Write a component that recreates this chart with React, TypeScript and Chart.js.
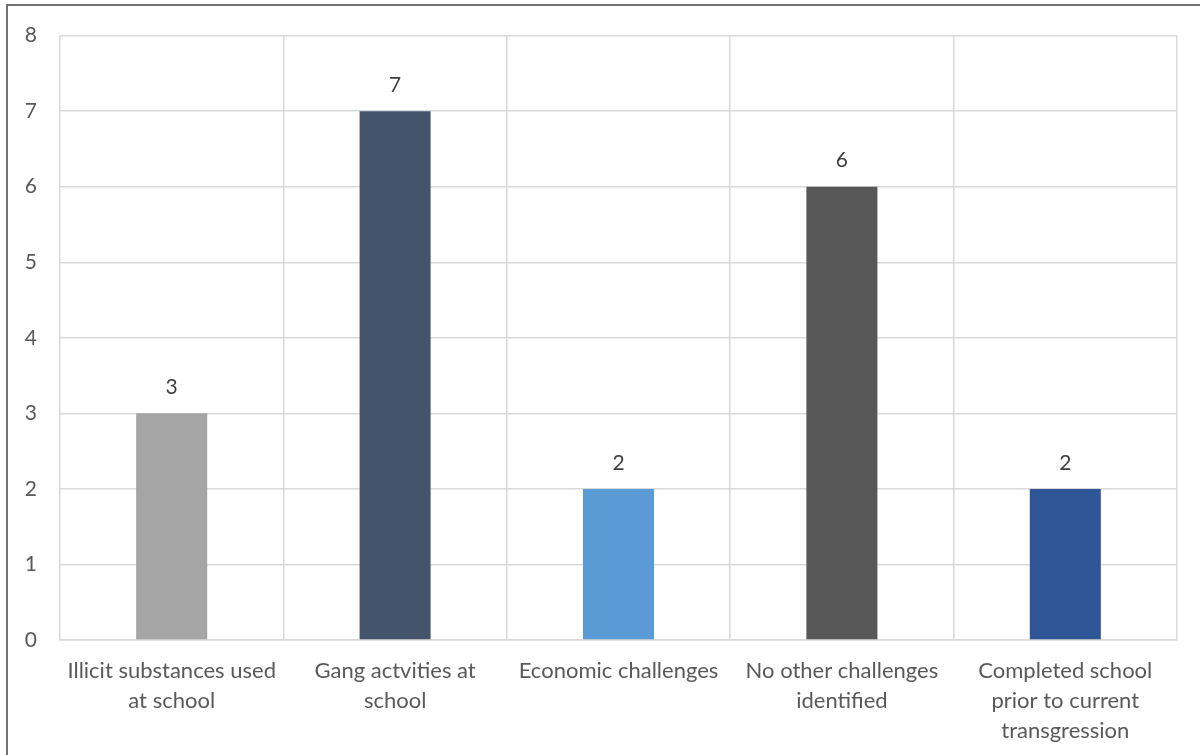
import React, { useEffect, useRef } from "react";
import { Chart, registerables } from "chart.js";

Chart.register(...registerables);

const categories: (string | string[])[] = [
  ["Illicit substances used", "at school"],
  ["Gang actvities at", "school"],
  "Economic challenges",
  ["No other challenges", "identified"],
  ["Completed school", "prior to current", "transgression"],
];
const counts = [3, 7, 2, 6, 2];
const barColors = ["#a5a5a5", "#44546a", "#5b9bd5", "#585858", "#2e5596"];
const yTicks = [0, 1, 2, 3, 4, 5, 6, 7, 8];

const FONT = "Lato, 'Open Sans', sans-serif";
const TEXT = "#595959";

// Writes each bar's value just above it
const valueLabels = {
  id: "valueLabels",
  afterDatasetsDraw(chart: any) {
    const { ctx } = chart;
    const meta = chart.getDatasetMeta(0);
    const data = chart.data.datasets[0].data as number[];
    ctx.save();
    ctx.font = `21px ${FONT}`;
    ctx.fillStyle = "#404040";
    ctx.textAlign = "center";
    ctx.textBaseline = "middle";
    meta.data.forEach((bar: any, i: number) => {
      ctx.fillText(String(data[i]), bar.x, bar.y - 26);
    });
    ctx.restore();
  },
};

export default function App() {
  const canvasRef = useRef<HTMLCanvasElement | null>(null);

  useEffect(() => {
    document.body.style.margin = "0";
    const canvas = canvasRef.current;
    if (!canvas) return;
    const chart = new Chart(canvas, {
      type: "bar",
      data: {
        labels: categories,
        datasets: [
          {
            data: counts,
            backgroundColor: barColors,
            borderWidth: 0,
            categoryPercentage: 1,
            barPercentage: 0.318,
          },
        ],
      },
      options: {
        animation: false,
        responsive: false,
        maintainAspectRatio: false,
        layout: { padding: { top: 35, right: 23, left: 0, bottom: 0 } },
        plugins: {
          legend: { display: false },
          tooltip: { enabled: false },
        },
        scales: {
          x: {
            offset: true,
            grid: {
              offset: true,
              color: "#d9d9d9",
              lineWidth: 1.5,
              drawTicks: false,
            },
            border: { color: "#d9d9d9", width: 1.5 },
            ticks: {
              color: TEXT,
              font: { family: FONT, size: 22, lineHeight: 1.36 },
              padding: 16,
              maxRotation: 0,
              autoSkip: false,
            },
            afterFit: (scale: any) => {
              scale.height = 115;
            },
          },
          y: {
            min: 0,
            max: 8,
            afterBuildTicks: (scale: any) => {
              scale.ticks = yTicks.map((v) => ({ value: v }));
            },
            grid: { color: "#d9d9d9", lineWidth: 1.5, drawTicks: false },
            border: { display: false },
            ticks: {
              color: TEXT,
              font: { family: FONT, size: 21 },
              padding: 23,
            },
            afterFit: (scale: any) => {
              scale.width = 60;
            },
          },
        },
      },
      plugins: [valueLabels],
    });
    return () => chart.destroy();
  }, []);

  return (
    <div style={{ position: "absolute", left: 0, top: 0, width: 1200, height: 755, background: "#fff", overflow: "hidden" }}>
      <canvas ref={canvasRef} width={1200} height={755} style={{ position: "absolute", left: 0, top: 0 }} />
      <div
        style={{
          position: "absolute",
          left: 6,
          top: 4,
          width: 1300,
          height: 900,
          borderTop: "2px solid #767171",
          borderLeft: "2px solid #767171",
          pointerEvents: "none",
        }}
      />
    </div>
  );
}
